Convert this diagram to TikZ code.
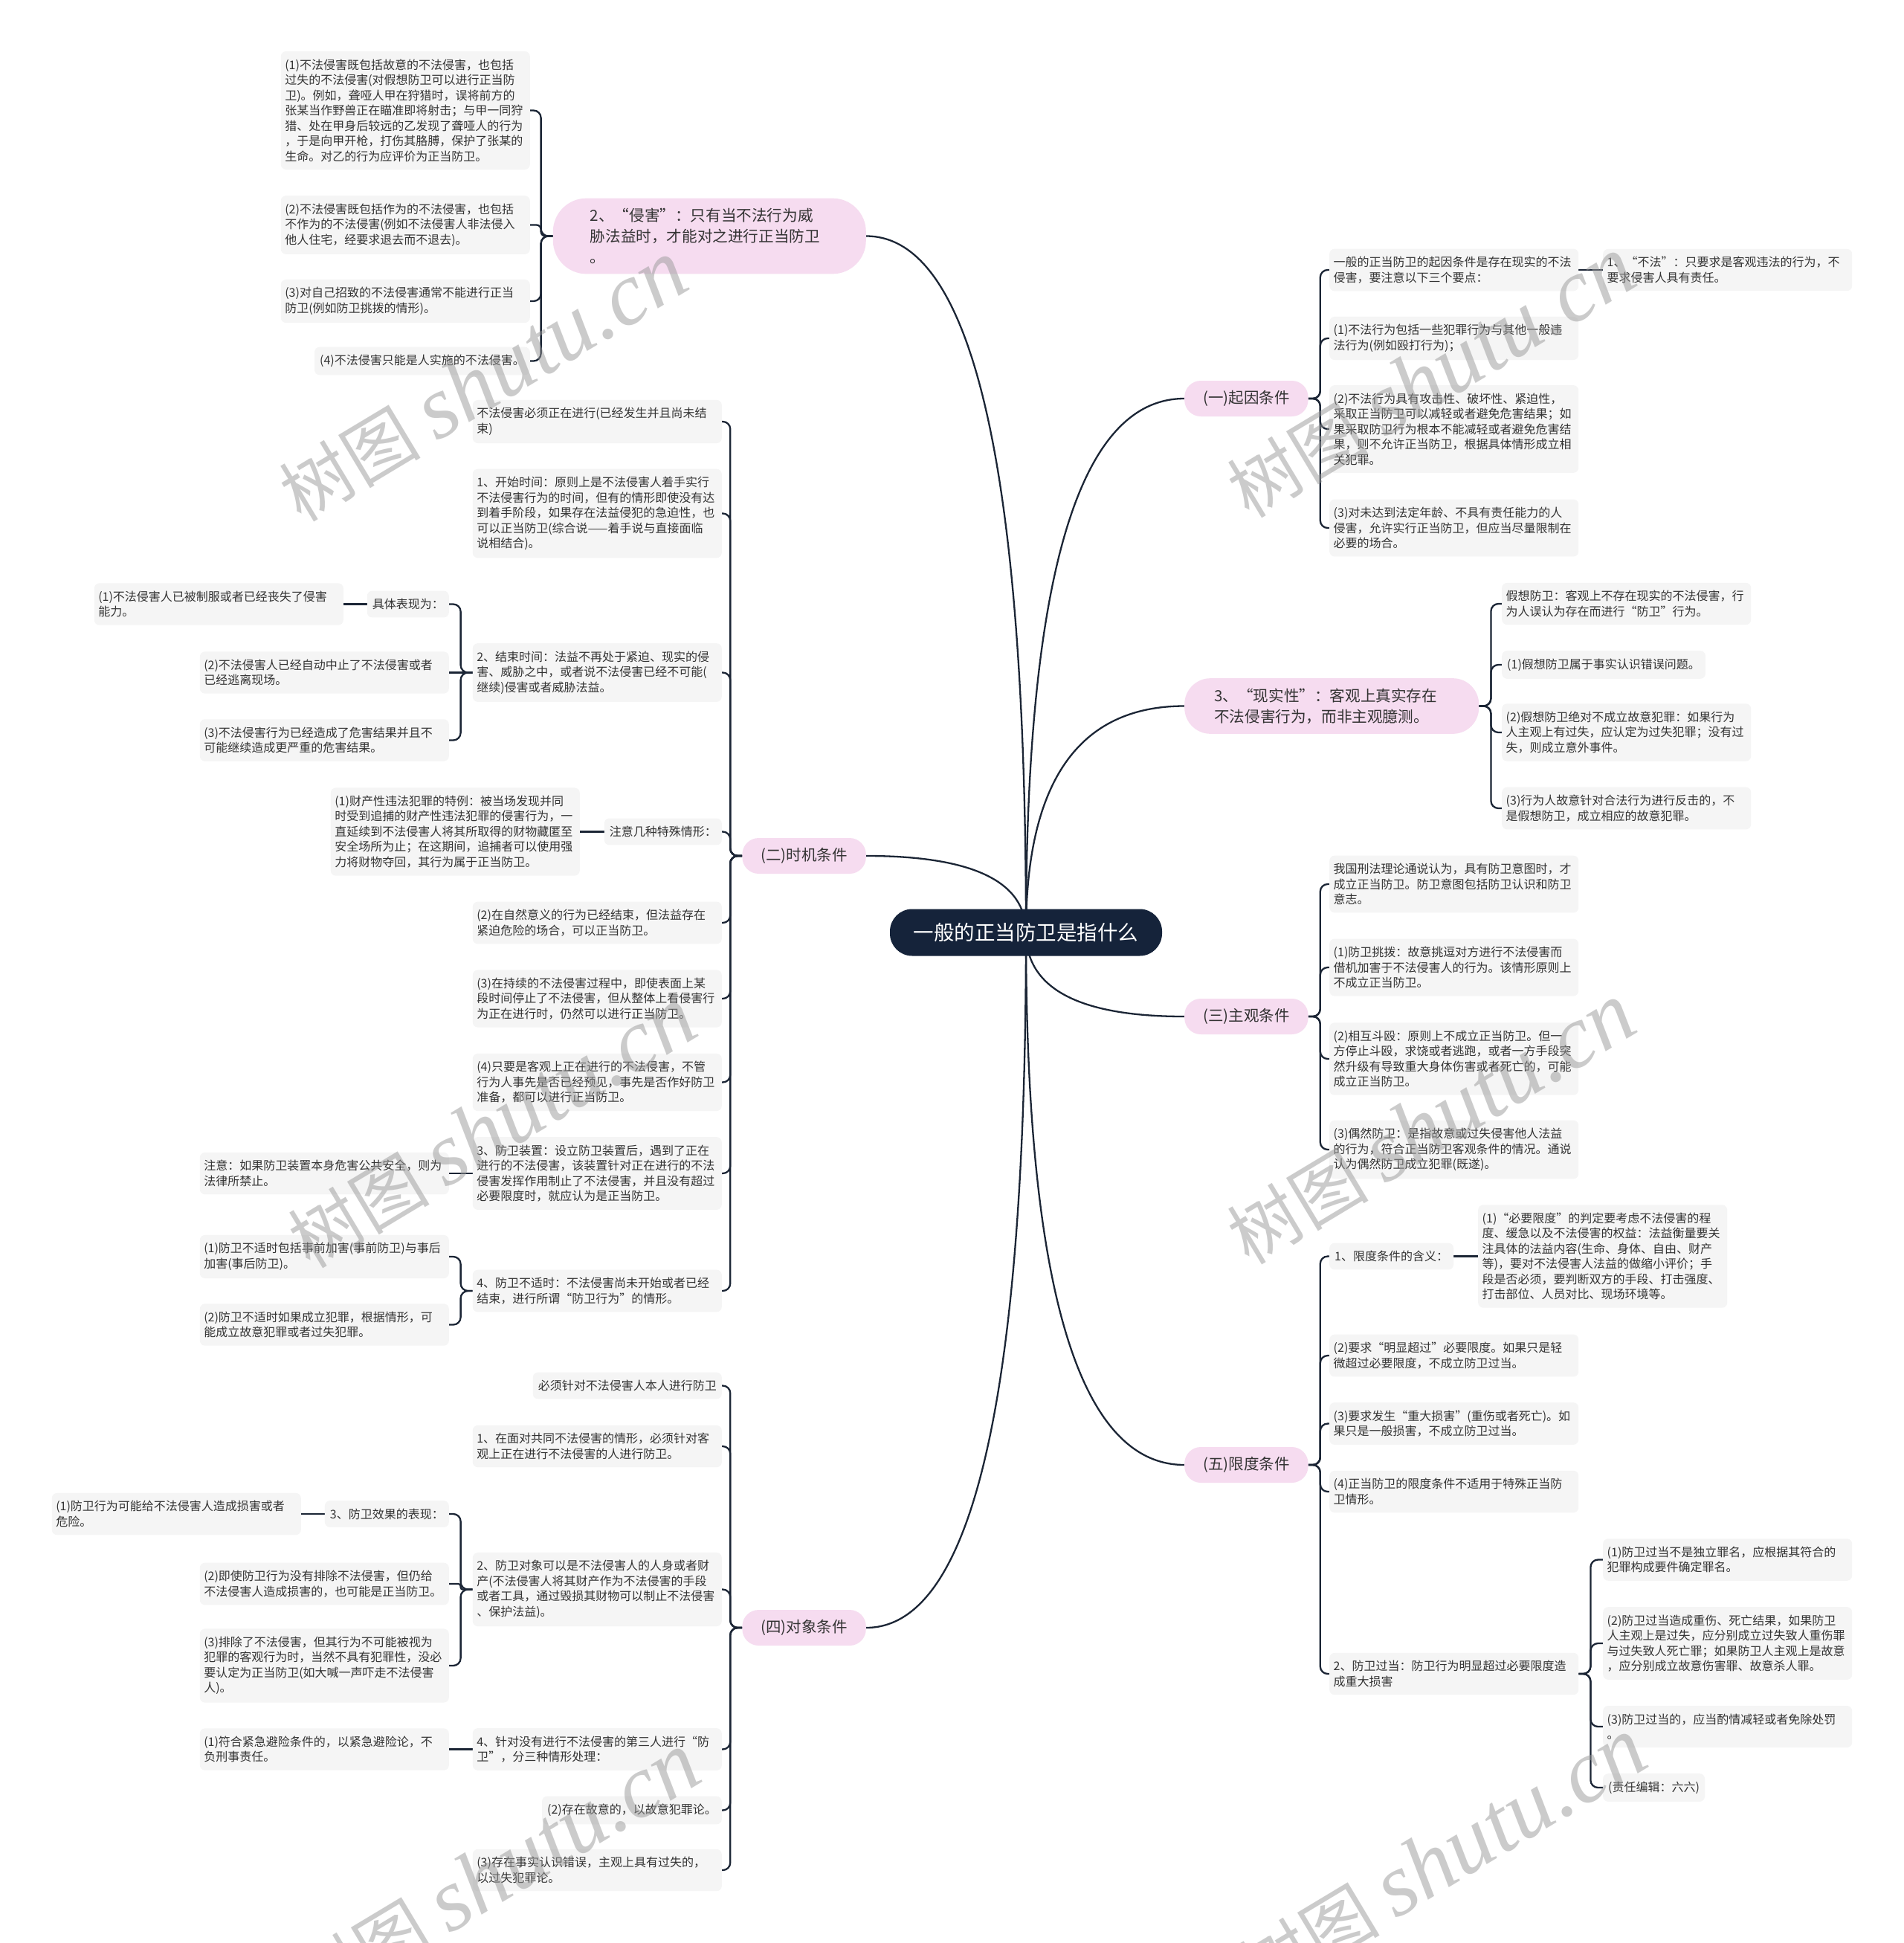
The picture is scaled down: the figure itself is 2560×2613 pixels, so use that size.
\documentclass[tikz,border=0pt]{standalone}
\usepackage{fontspec}
\setmainfont{Noto Sans CJK SC}
\newfontfamily\wmserif{Liberation Serif}
\usetikzlibrary{calc}
\pgfdeclarelayer{bg}
\pgfsetlayers{bg,main}
\definecolor{rootc}{HTML}{15233A}
\definecolor{linec}{HTML}{1B2535}
\definecolor{pinkc}{HTML}{F6DCF0}
\definecolor{leafc}{HTML}{F5F5F5}
\definecolor{txtc}{HTML}{333333}
\tikzset{
  link/.style={draw=linec, line width=2.3pt},
  rootnode/.style={fill=rootc, text=white, rounded corners=30pt, minimum width=366pt, minimum height=63pt, inner xsep=0pt, font=\fontsize{27.5}{33}\selectfont},
  branch/.style={fill=pinkc, text=txtc, rounded corners=22pt, minimum height=48pt, inner xsep=25pt, inner ysep=0pt, font=\fontsize{20.5}{26}\selectfont},
  bigpink/.style={fill=pinkc, text=txtc, align=left, inner ysep=13.5pt, font=\fontsize{20.6}{28}\selectfont},
  leaf/.style={fill=leafc, text=txtc, rounded corners=7pt, align=left, text width=324pt, inner xsep=5.5pt, inner ysep=10.5pt, font=\fontsize{16}{20.5}\selectfont},
  leafn/.style={fill=leafc, text=txtc, rounded corners=7pt, inner xsep=7pt, inner ysep=10.5pt, font=\fontsize{16}{20.5}\selectfont},
  wm/.style={rotate=31, text=black!40, opacity=0.5, inner sep=0pt},
}
\newcommand\rlink[1]{\draw[link] (root.center) .. controls ($(root.center)!0.6667!(root.center|-#1)$) and ($(#1)!0.6667!(root.center|-#1)$) .. (#1);}
\newcommand\brR[3][10]{\draw[link,rounded corners=#1pt] (#2.east) -- ++(16,0) |- (#3.west);}
\newcommand\brL[3][10]{\draw[link,rounded corners=#1pt] (#2.west) -- ++(-16,0) |- (#3.east);}
\newcommand\wmtext{\fontsize{95}{95}\selectfont 树图\hspace{22pt}{\wmserif\itshape\fontsize{120}{120}\selectfont shutu.cn}}
\begin{document}
\begin{tikzpicture}[x=1pt,y=-1pt]
\useasboundingbox (0,0) rectangle (2560,2613);
% root
\node[rootnode] (root) at (1380,1254) {一般的正当防卫是指什么};

% ===== right side =====
\node[branch, anchor=west] (b1) at (1593,536) {(一)起因条件};
\node[leaf, anchor=west] (r11) at (1788,363) {一般的正当防卫的起因条件是存在现实的不法\\侵害，要注意以下三个要点：};
\node[leaf, anchor=west] (r111) at (2156,363) {1、“不法”：只要求是客观违法的行为，不\\要求侵害人具有责任。};
\node[leaf, anchor=west] (r12) at (1788,455) {(1)不法行为包括一些犯罪行为与其他一般违\\法行为(例如殴打行为)；};
\node[leaf, anchor=west] (r13) at (1788,577) {(2)不法行为具有攻击性、破坏性、紧迫性，\\采取正当防卫可以减轻或者避免危害结果；如\\果采取防卫行为根本不能减轻或者避免危害结\\果，则不允许正当防卫，根据具体情形成立相\\关犯罪。};
\node[leaf, anchor=west] (r14) at (1788,710) {(3)对未达到法定年龄、不具有责任能力的人\\侵害，允许实行正当防卫，但应当尽量限制在\\必要的场合。};

\node[bigpink, anchor=west, text width=316pt, inner xsep=40pt, rounded corners=35pt] (p3) at (1593,949.5) {3、“现实性”：客观上真实存在\\不法侵害行为，而非主观臆测。};
\node[leaf, anchor=west] (r31) at (2020,812) {假想防卫：客观上不存在现实的不法侵害，行\\为人误认为存在而进行“防卫”行为。};
\node[leafn, anchor=west] (r32) at (2020,894) {(1)假想防卫属于事实认识错误问题。};
\node[leaf, anchor=west] (r33) at (2020,985) {(2)假想防卫绝对不成立故意犯罪：如果行为\\人主观上有过失，应认定为过失犯罪；没有过\\失，则成立意外事件。};
\node[leaf, anchor=west] (r34) at (2020,1087) {(3)行为人故意针对合法行为进行反击的，不\\是假想防卫，成立相应的故意犯罪。};

\node[branch, anchor=west] (b3) at (1593,1367) {(三)主观条件};
\node[leaf, anchor=west] (r41) at (1788,1189) {我国刑法理论通说认为，具有防卫意图时，才\\成立正当防卫。防卫意图包括防卫认识和防卫\\意志。};
\node[leaf, anchor=west] (r42) at (1788,1301) {(1)防卫挑拨：故意挑逗对方进行不法侵害而\\借机加害于不法侵害人的行为。该情形原则上\\不成立正当防卫。};
\node[leaf, anchor=west] (r43) at (1788,1424) {(2)相互斗殴：原则上不成立正当防卫。但一\\方停止斗殴，求饶或者逃跑，或者一方手段突\\然升级有导致重大身体伤害或者死亡的，可能\\成立正当防卫。};
\node[leaf, anchor=west] (r44) at (1788,1546) {(3)偶然防卫：是指故意或过失侵害他人法益\\的行为，符合正当防卫客观条件的情况。通说\\认为偶然防卫成立犯罪(既遂)。};

\node[branch, anchor=west] (b5) at (1593,1970) {(五)限度条件};
\node[leafn, anchor=west] (r51) at (1788,1689.5) {1、限度条件的含义：};
\node[leaf, anchor=west] (r511) at (1988,1689.5) {(1)“必要限度”的判定要考虑不法侵害的程\\度、缓急以及不法侵害的权益：法益衡量要关\\注具体的法益内容(生命、身体、自由、财产\\等)，要对不法侵害人法益的做缩小评价；手\\段是否必须，要判断双方的手段、打击强度、\\打击部位、人员对比、现场环境等。};
\node[leaf, anchor=west] (r52) at (1788,1823) {(2)要求“明显超过”必要限度。如果只是轻\\微超过必要限度，不成立防卫过当。};
\node[leaf, anchor=west] (r53) at (1788,1914.5) {(3)要求发生“重大损害”(重伤或者死亡)。如\\果只是一般损害，不成立防卫过当。};
\node[leaf, anchor=west] (r54) at (1788,2006) {(4)正当防卫的限度条件不适用于特殊正当防\\卫情形。};
\node[leaf, anchor=west] (r55) at (1788,2251) {2、防卫过当：防卫行为明显超过必要限度造\\成重大损害};
\node[leaf, anchor=west] (r551) at (2156,2097.5) {(1)防卫过当不是独立罪名，应根据其符合的\\犯罪构成要件确定罪名。};
\node[leaf, anchor=west] (r552) at (2156,2210) {(2)防卫过当造成重伤、死亡结果，如果防卫\\人主观上是过失，应分别成立过失致人重伤罪\\与过失致人死亡罪；如果防卫人主观上是故意\\，应分别成立故意伤害罪、故意杀人罪。};
\node[leaf, anchor=west] (r553) at (2156,2322) {(3)防卫过当的，应当酌情减轻或者免除处罚\\。};
\node[leafn, anchor=west] (r554) at (2156,2404) {(责任编辑：六六)};

% ===== left side =====
\node[bigpink, anchor=east, text width=321pt, inner xsep=50pt, rounded corners=45pt] (p2) at (1165,317.5) {2、“侵害”：只有当不法行为威\\胁法益时，才能对之进行正当防卫\\。};
\node[leaf, anchor=east] (l11) at (713,148.5) {(1)不法侵害既包括故意的不法侵害，也包括\\过失的不法侵害(对假想防卫可以进行正当防\\卫)。例如，聋哑人甲在狩猎时，误将前方的\\张某当作野兽正在瞄准即将射击；与甲一同狩\\猎、处在甲身后较远的乙发现了聋哑人的行为\\，于是向甲开枪，打伤其胳膊，保护了张某的\\生命。对乙的行为应评价为正当防卫。};
\node[leaf, anchor=east] (l12) at (713,302.5) {(2)不法侵害既包括作为的不法侵害，也包括\\不作为的不法侵害(例如不法侵害人非法侵入\\他人住宅，经要求退去而不退去)。};
\node[leaf, anchor=east] (l13) at (713,405) {(3)对自己招致的不法侵害通常不能进行正当\\防卫(例如防卫挑拨的情形)。};
\node[leafn, anchor=east] (l14) at (713,485.5) {(4)不法侵害只能是人实施的不法侵害。};

\node[branch, anchor=east] (b2) at (1165,1151) {(二)时机条件};
\node[leaf, anchor=east] (l21) at (971,567) {不法侵害必须正在进行(已经发生并且尚未结\\束)};
\node[leaf, anchor=east] (l22) at (971,690.5) {1、开始时间：原则上是不法侵害人着手实行\\不法侵害行为的时间，但有的情形即使没有达\\到着手阶段，如果存在法益侵犯的急迫性，也\\可以正当防卫(综合说——着手说与直接面临\\说相结合)。};
\node[leaf, anchor=east] (l23) at (971,904.5) {2、结束时间：法益不再处于紧迫、现实的侵\\害、威胁之中，或者说不法侵害已经不可能(\\继续)侵害或者威胁法益。};
\node[leafn, anchor=east] (l231) at (604,812.5) {具体表现为：};
\node[leaf, anchor=east] (l2311) at (462,812.5) {(1)不法侵害人已被制服或者已经丧失了侵害\\能力。};
\node[leaf, anchor=east] (l232) at (604,904.5) {(2)不法侵害人已经自动中止了不法侵害或者\\已经逃离现场。};
\node[leaf, anchor=east] (l233) at (604,995.5) {(3)不法侵害行为已经造成了危害结果并且不\\可能继续造成更严重的危害结果。};
\node[leafn, anchor=east] (l24) at (971,1118.5) {注意几种特殊情形：};
\node[leaf, anchor=east] (l241) at (780,1118.5) {(1)财产性违法犯罪的特例：被当场发现并同\\时受到追捕的财产性违法犯罪的侵害行为，一\\直延续到不法侵害人将其所取得的财物藏匿至\\安全场所为止；在这期间，追捕者可以使用强\\力将财物夺回，其行为属于正当防卫。};
\node[leaf, anchor=east] (l25) at (971,1241) {(2)在自然意义的行为已经结束，但法益存在\\紧迫危险的场合，可以正当防卫。};
\node[leaf, anchor=east] (l26) at (971,1343) {(3)在持续的不法侵害过程中，即使表面上某\\段时间停止了不法侵害，但从整体上看侵害行\\为正在进行时，仍然可以进行正当防卫。};
\node[leaf, anchor=east] (l27) at (971,1455.5) {(4)只要是客观上正在进行的不法侵害，不管\\行为人事先是否已经预见，事先是否作好防卫\\准备，都可以进行正当防卫。};
\node[leaf, anchor=east] (l28) at (971,1578) {3、防卫装置：设立防卫装置后，遇到了正在\\进行的不法侵害，该装置针对正在进行的不法\\侵害发挥作用制止了不法侵害，并且没有超过\\必要限度时，就应认为是正当防卫。};
\node[leaf, anchor=east] (l281) at (604,1578) {注意：如果防卫装置本身危害公共安全，则为\\法律所禁止。};
\node[leaf, anchor=east] (l29) at (971,1736) {4、防卫不适时：不法侵害尚未开始或者已经\\结束，进行所谓“防卫行为”的情形。};
\node[leaf, anchor=east] (l291) at (604,1690) {(1)防卫不适时包括事前加害(事前防卫)与事后\\加害(事后防卫)。};
\node[leaf, anchor=east] (l292) at (604,1781.5) {(2)防卫不适时如果成立犯罪，根据情形，可\\能成立故意犯罪或者过失犯罪。};

\node[branch, anchor=east] (b4) at (1165,2189) {(四)对象条件};
\node[leafn, anchor=east] (l31) at (971,1863.5) {必须针对不法侵害人本人进行防卫};
\node[leaf, anchor=east] (l32) at (971,1945) {1、在面对共同不法侵害的情形，必须针对客\\观上正在进行不法侵害的人进行防卫。};
\node[leaf, anchor=east] (l33) at (971,2137.5) {2、防卫对象可以是不法侵害人的人身或者财\\产(不法侵害人将其财产作为不法侵害的手段\\或者工具，通过毁损其财物可以制止不法侵害\\、保护法益)。};
\node[leafn, anchor=east] (l331) at (604,2036) {3、防卫效果的表现：};
\node[leaf, anchor=east] (l3311) at (405,2036) {(1)防卫行为可能给不法侵害人造成损害或者\\危险。};
\node[leaf, anchor=east] (l332) at (604,2130) {(2)即使防卫行为没有排除不法侵害，但仍给\\不法侵害人造成损害的，也可能是正当防卫。};
\node[leaf, anchor=east] (l333) at (604,2240) {(3)排除了不法侵害，但其行为不可能被视为\\犯罪的客观行为时，当然不具有犯罪性，没必\\要认定为正当防卫(如大喊一声吓走不法侵害\\人)。};
\node[leaf, anchor=east] (l34) at (971,2352.5) {4、针对没有进行不法侵害的第三人进行“防\\卫”，分三种情形处理：};
\node[leaf, anchor=east] (l341) at (604,2352.5) {(1)符合紧急避险条件的，以紧急避险论，不\\负刑事责任。};
\node[leafn, anchor=east] (l35) at (971,2434.5) {(2)存在故意的，以故意犯罪论。};
\node[leaf, anchor=east] (l36) at (971,2515) {(3)存在事实认识错误，主观上具有过失的，\\以过失犯罪论。};

% ===== connectors =====
\begin{pgfonlayer}{bg}
\fill[white] (0,0) rectangle (2560,2613);
\rlink{b1.west}
\rlink{p3.west}
\rlink{b3.west}
\rlink{b5.west}
\rlink{p2.east}
\rlink{b2.east}
\rlink{b4.east}
% right brackets
\brR{b1}{r11} \brR{b1}{r12} \brR{b1}{r13} \brR{b1}{r14}
\draw[link] (r11.east) -- (r111.west);
\brR{p3}{r31} \brR{p3}{r32} \brR{p3}{r33} \brR{p3}{r34}
\brR{b3}{r41} \brR{b3}{r42} \brR{b3}{r43} \brR{b3}{r44}
\brR{b5}{r51} \brR{b5}{r52} \brR{b5}{r53} \brR{b5}{r54} \brR{b5}{r55}
\draw[link] (r51.east) -- (r511.west);
\brR{r55}{r551} \brR{r55}{r552} \brR{r55}{r553} \brR{r55}{r554}
% left brackets
\brL{p2}{l11} \brL[6]{p2}{l12} \brL{p2}{l13} \brL{p2}{l14}
\brL{b2}{l21} \brL{b2}{l22} \brL{b2}{l23} \brL{b2}{l24} \brL{b2}{l25} \brL{b2}{l26} \brL{b2}{l27} \brL{b2}{l28} \brL{b2}{l29}
\brL{l23}{l231} \draw[link] (l23.west) -- (l232.east); \brL{l23}{l233}
\draw[link] (l231.west) -- (l2311.east);
\draw[link] (l24.west) -- (l241.east);
\draw[link] (l28.west) -- (l281.east);
\brL{l29}{l291} \brL{l29}{l292}
\brL{b4}{l31} \brL{b4}{l32} \brL{b4}{l33} \brL{b4}{l34} \brL{b4}{l35} \brL{b4}{l36}
\brL{l33}{l331} \brL[3]{l33}{l332} \brL{l33}{l333}
\draw[link] (l331.west) -- (l3311.east);
\draw[link] (l34.west) -- (l341.east);
\end{pgfonlayer}

% ===== watermarks =====
\node[wm] (w1) at (650,513) {\wmtext};
\node[wm] (w2) at (1925,508) {\wmtext};
\node[wm] (w3) at (662,1517) {\wmtext};
\node[wm] (w4) at (1925,1512) {\wmtext};
\node[wm] (w5) at (667,2520) {\wmtext};
\node[wm] (w6) at (1940,2500) {\wmtext};
\end{tikzpicture}
\end{document}
